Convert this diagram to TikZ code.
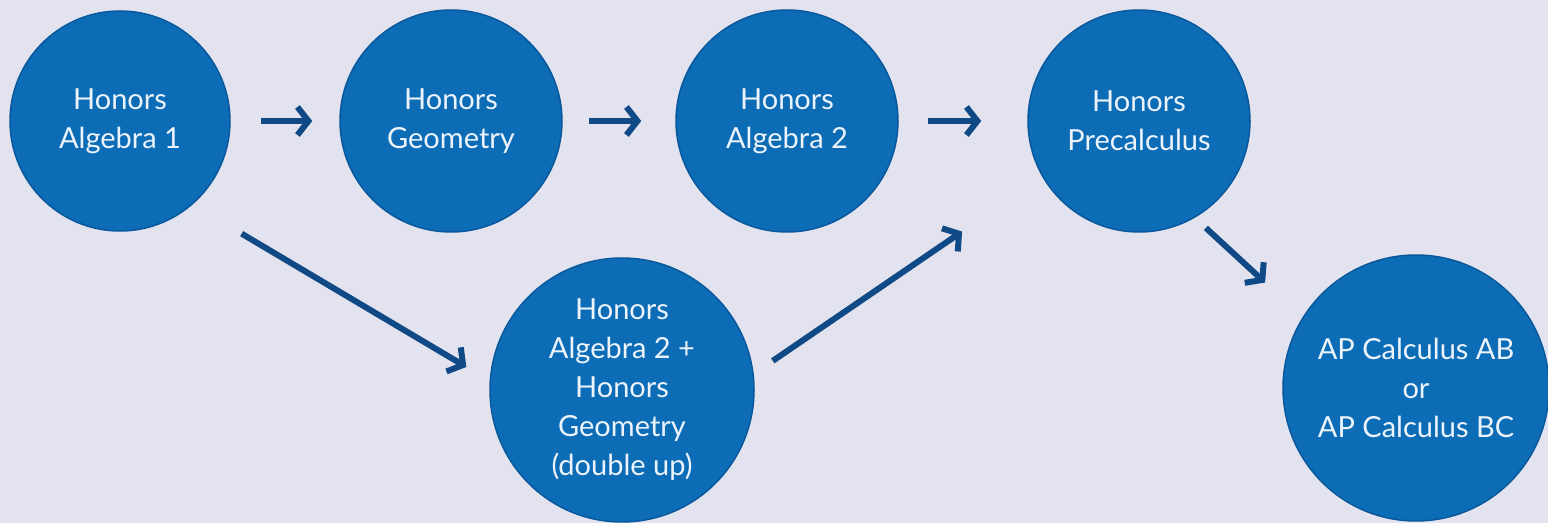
\documentclass[tikz,border=0pt]{standalone}
\usepackage{fontspec}
\setmainfont{Lato}
\usetikzlibrary{arrows.meta}

\definecolor{pagebg}{RGB}{226,227,238}
\definecolor{ballblue}{RGB}{12,108,182}
\definecolor{ballrim}{RGB}{10,88,156}
\definecolor{balltext}{RGB}{236,243,250}
\definecolor{arrowblue}{RGB}{16,74,134}

\begin{document}
\begin{tikzpicture}[x=1pt, y=1pt,
        course/.style={circle, fill=ballblue, draw=ballrim, line width=1.5pt, text=balltext,
          align=center, inner sep=0pt, font=\fontsize{29}{39}\selectfont},
        arr/.style={line width=6pt, draw=arrowblue, -{Straight Barb[length=11pt, width=28pt]}}]
        \fill[pagebg] (0, 0) rectangle (1548, 523);
        \useasboundingbox (0, 0) rectangle (1548, 523);

        \node[course, minimum size=220pt] (alg1) at (120, 402) {Honors\\Algebra 1};
        \node[course, minimum size=222pt] (geo) at (451, 402) {Honors\\Geometry};
        \node[course, minimum size=222pt] (alg2) at (787, 402) {Honors\\Algebra 2};
        \node[course, minimum size=222pt] (precalc) at (1139, 402) {Honors\\Precalculus};
        \node[course, minimum size=264pt] (dbl) at (622, 133) {Honors\\Algebra 2 +\\Honors\\Geometry\\(double up)};
        \node[course, minimum size=266pt] (ap) at (1416, 135) {AP Calculus AB\\or\\AP Calculus BC};

        \draw[arr, shorten <=30pt, shorten >=27pt] (alg1.east) -- (geo.west);
        \draw[arr, shorten <=26pt, shorten >=34pt] (geo.east) -- (alg2.west);
        \draw[arr, shorten <=29pt, shorten >=46pt] (alg2.east) -- (precalc.west);

        \draw[arr, shorten <=57pt, shorten >=27pt] (alg1.-49) -- (dbl.176);
        \draw[arr, shorten <=23pt, shorten >=97pt] (dbl.7) -- (precalc.210);
        \draw[arr, shorten <=15pt, shorten >=51pt] (precalc.-60) -- (ap.148);
      \end{tikzpicture}
\end{document}
